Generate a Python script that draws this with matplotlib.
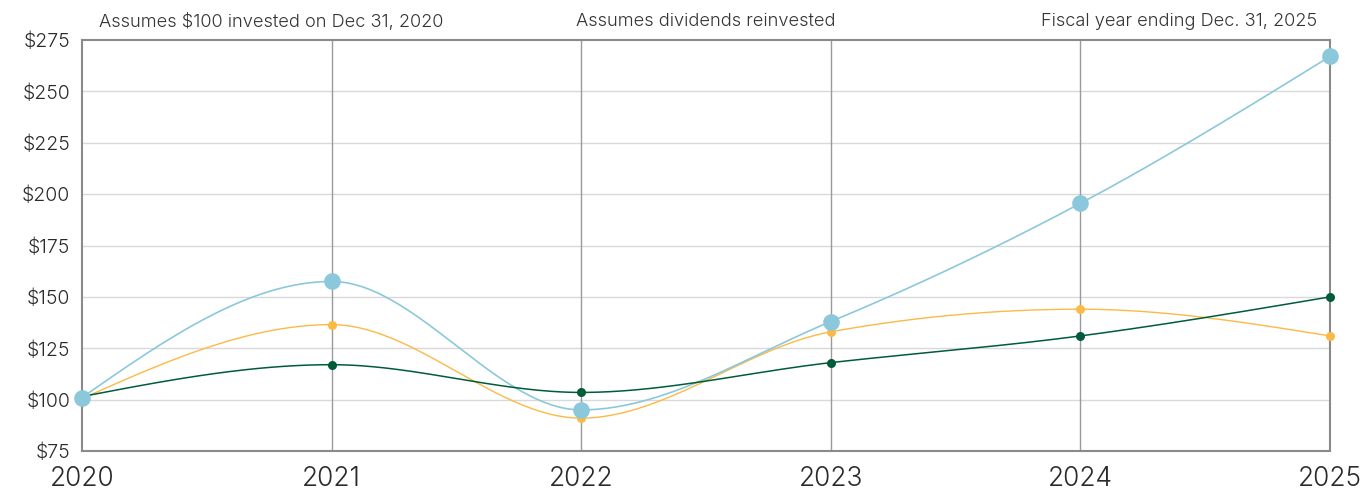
import numpy as np
import matplotlib
matplotlib.use("Agg")
import matplotlib.pyplot as plt

plt.rcParams['font.family'] = ['Inter', 'DejaVu Sans']
plt.rcParams['font.weight'] = 300

years = [2020, 2021, 2022, 2023, 2024, 2025]
series_blue = [101, 157.5, 95, 138, 195.5, 267]
series_orange = [100.5, 136.5, 91, 133, 144, 131]
series_green = [101.5, 117, 103.5, 118, 131, 150]
y_ticks = [75, 100, 125, 150, 175, 200, 225, 250, 275]

BLUE = "#8cc8dc"
ORANGE = "#fdb945"
GREEN = "#005c38"
TEXT = "#2a2a2a"


def monotone_curve(x, y, n=60):
    """Monotone cubic (Steffen) interpolation through the points."""
    x = np.asarray(x, float)
    y = np.asarray(y, float)
    h = np.diff(x)
    s = np.diff(y) / h
    m = np.zeros_like(y)
    for i in range(1, len(x) - 1):
        p = (s[i - 1] * h[i] + s[i] * h[i - 1]) / (h[i - 1] + h[i])
        m[i] = (np.sign(s[i - 1]) + np.sign(s[i])) * min(abs(s[i - 1]), abs(s[i]), 0.5 * abs(p))
    m[0] = (3 * s[0] - m[1]) / 2
    m[-1] = (3 * s[-1] - m[-2]) / 2
    xs, ys = [], []
    for i in range(len(x) - 1):
        t = np.linspace(0, 1, n)
        h00 = 2 * t**3 - 3 * t**2 + 1
        h10 = t**3 - 2 * t**2 + t
        h01 = -2 * t**3 + 3 * t**2
        h11 = t**3 - t**2
        seg = h00 * y[i] + h10 * h[i] * m[i] + h01 * y[i + 1] + h11 * h[i] * m[i + 1]
        xs.append(x[i] + t * h[i])
        ys.append(seg)
    return np.concatenate(xs), np.concatenate(ys)


fig = plt.figure(figsize=(13.61, 4.91), dpi=100)
ax = fig.add_axes([82 / 1361, 1 - 451 / 491, (1330 - 82) / 1361, (451 - 40) / 491])

ax.set_xlim(2020, 2025)
ax.set_ylim(75, 275)

for yv in y_ticks[1:-1]:
    ax.axhline(yv, color="#d9d9d9", lw=1.0, zorder=1)
for xv in years[1:-1]:
    ax.axvline(xv, color="#9a9a9a", lw=1.0, zorder=1)

for vals, col, lw in [(series_orange, ORANGE, 1.0), (series_blue, BLUE, 1.2), (series_green, GREEN, 1.1)]:
    cx, cy = monotone_curve(years, vals)
    ax.plot(cx, cy, color=col, lw=lw, zorder=3, clip_on=False, solid_capstyle="round")

ax.plot(years, series_orange, "o", color=ORANGE, ms=6.5, mew=0, zorder=4, clip_on=False)
ax.plot(years, series_green, "o", color=GREEN, ms=6.5, mew=0, zorder=5, clip_on=False)
ax.plot(years, series_blue, "o", color=BLUE, ms=12, mew=0, zorder=6, clip_on=False)

for sp in ax.spines.values():
    sp.set_color("#8a8a8a")
    sp.set_linewidth(1.5)
    sp.set_zorder(2)

ax.set_yticks(y_ticks)
ax.set_yticklabels([f"${v}" for v in y_ticks])
ax.set_xticks(years)
ax.set_xticklabels([str(y) for y in years])
ax.tick_params(axis="y", length=0, pad=8.5, labelsize=14, labelcolor=TEXT)
ax.tick_params(axis="x", length=0, pad=11, labelsize=19, labelcolor=TEXT)

fig.text(271 / 1361, 1 - 22 / 491, "Assumes $100 invested on Dec 31, 2020", ha="center", va="center",
         fontsize=13.1, color="#333333")
fig.text(706 / 1361, 1 - 22 / 491, "Assumes dividends reinvested", ha="center", va="center",
         fontsize=13.1, color="#333333")
fig.text(1317 / 1361, 1 - 22 / 491, "Fiscal year ending Dec. 31, 2025", ha="right", va="center",
         fontsize=13.1, color="#333333")

fig.savefig("out.png", dpi=100)
